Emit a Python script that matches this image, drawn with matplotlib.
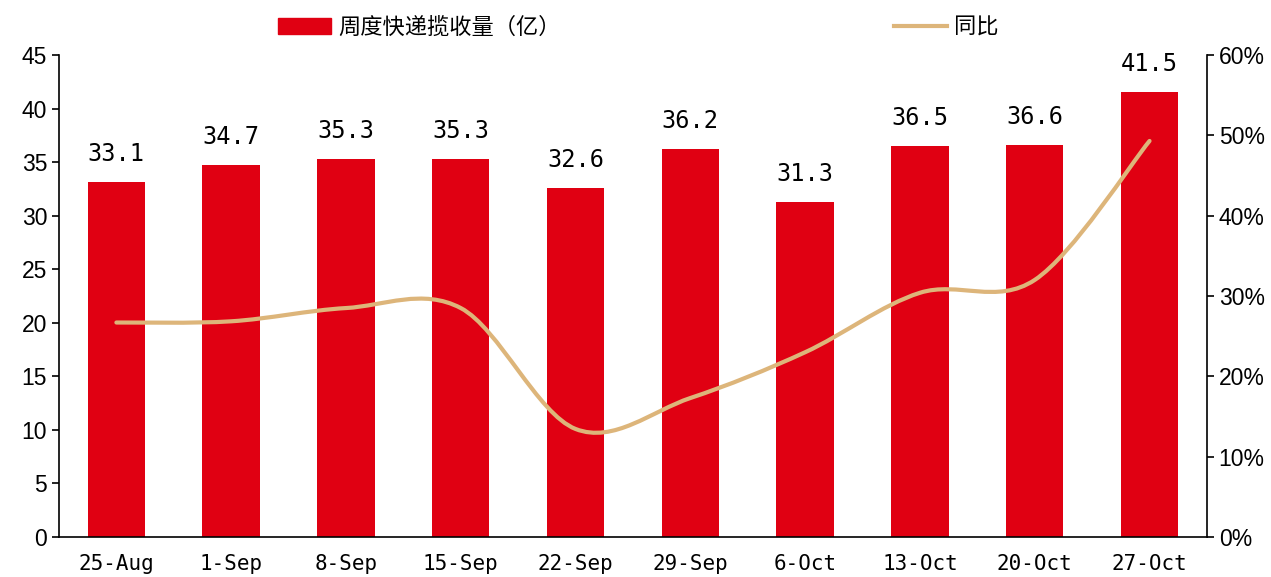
import matplotlib.pyplot as plt
import numpy as np
from matplotlib.path import Path
from matplotlib.patches import PathPatch
from matplotlib.lines import Line2D
from matplotlib.patches import Patch

weeks = ['25-Aug', '1-Sep', '8-Sep', '15-Sep', '22-Sep', '29-Sep',
         '6-Oct', '13-Oct', '20-Oct', '27-Oct']
volume = [33.1, 34.7, 35.3, 35.3, 32.6, 36.2, 31.3, 36.5, 36.6, 41.5]   # 亿件
yoy = [26.7, 26.85, 28.5, 28.5, 13.45, 17.3, 23.0, 30.4, 32.0, 49.3]   # %

bar_color = '#E00012'
line_color = '#DDB57A'
cjk = ['Noto Sans CJK SC', 'DejaVu Sans']
mono = 'DejaVu Sans Mono'

fig = plt.figure(figsize=(12.71, 5.77), dpi=100)
ax1 = fig.add_axes([0.0464, 0.0693, 0.9032, 0.8354])
ax2 = ax1.twinx()

x = np.arange(len(weeks))
ax1.bar(x, volume, width=0.5, color=bar_color, zorder=2)
for xi, v in zip(x, volume):
    ax1.text(xi, v + 1.5, '%.1f' % v, ha='center', va='bottom',
             fontsize=17, family=mono)

ax1.set_xlim(-0.5, len(weeks) - 0.5)
ax1.set_ylim(0, 45)
ax1.set_yticks(np.arange(0, 46, 5))
ax1.set_xticks(x)
ax1.set_xticklabels(weeks, family=mono, fontsize=15)
ax1.tick_params(axis='x', length=0, pad=12)
ax1.tick_params(axis='y', labelsize=16.5, length=5, width=1.2, direction='out')
for lab in ax1.get_yticklabels():
    lab.set_family('Liberation Sans')

# smoothed line (Excel style bezier through data points)
pts = np.column_stack([x, yoy])
verts = [tuple(pts[0])]
codes = [Path.MOVETO]
n = len(pts)
for i in range(n - 1):
    p0 = pts[max(i - 1, 0)]
    p1 = pts[i]
    p2 = pts[i + 1]
    p3 = pts[min(i + 2, n - 1)]
    c1 = p1 + (p2 - p0) / 6.0
    c2 = p2 - (p3 - p1) / 6.0
    verts += [tuple(c1), tuple(c2), tuple(p2)]
    codes += [Path.CURVE4] * 3
ax2.add_patch(PathPatch(Path(verts, codes), fill=False, edgecolor=line_color,
                        lw=3, capstyle='round', zorder=3))

ax2.set_ylim(0, 60)
ax2.set_yticks(np.arange(0, 61, 10))
ax2.set_yticklabels(['%d%%' % v for v in range(0, 61, 10)])
ax2.tick_params(axis='y', labelsize=16.5, length=5, width=1.2, direction='out')
for lab in ax2.get_yticklabels():
    lab.set_family('Liberation Sans')

for ax in (ax1, ax2):
    ax.spines['top'].set_visible(False)
    for s in ('left', 'right', 'bottom'):
        ax.spines[s].set_linewidth(1.2)
ax1.spines['right'].set_visible(False)
ax2.spines['left'].set_visible(False)
ax2.spines['bottom'].set_visible(False)

handles = [Patch(color=bar_color), Line2D([], [], color=line_color, lw=3)]
leg = fig.legend(handles, ['周度快递揽收量（亿）', '同比'], loc='center',
                 bbox_to_anchor=(0.502, 0.953), ncol=2, frameon=False,
                 prop={'family': cjk, 'size': 16}, columnspacing=15,
                 handlelength=2.4, handletextpad=0.3)

fig.savefig('out.png', dpi=100)
